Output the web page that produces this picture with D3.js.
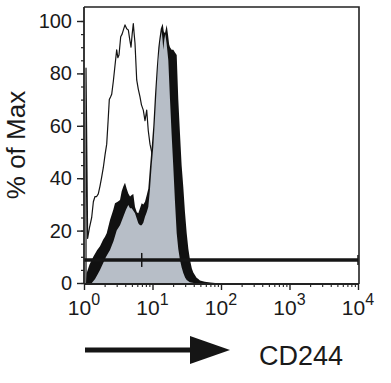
<!DOCTYPE html>
<html>
<head>
<meta charset="utf-8">
<script src="https://cdn.jsdelivr.net/npm/d3@7"></script>
<style>
  html, body { margin: 0; padding: 0; background: #fff; }
  svg { display: block; }
  text { font-family: "Liberation Sans", Arial, sans-serif; fill: #1a1a1a; }
</style>
</head>
<body>
<svg id="chart" width="391" height="383"></svg>
<script>
// ---- data (CD244 intensity, % of Max) ----
const thinX = [1.07, 1.07, 1.13, 1.2, 1.295, 1.37, 1.447, 1.53, 1.617, 1.712, 1.8, 1.913, 2.03, 2.145, 2.25, 2.341, 2.44, 2.537, 2.68, 2.835, 3.0, 3.12, 3.243, 3.434, 3.6, 3.8, 3.968, 4.2, 4.434, 4.65, 4.855, 5.05, 5.246, 5.4, 5.553, 5.881, 6.2, 6.569, 6.9, 7.34, 7.772, 8.0, 8.229, 8.685, 9.194, 9.735, 10.5, 11.5, 12.5, 13.6, 15, 17, 20, 24];
const thinY = [0, 82, 17, 21, 25, 31, 33, 33, 34, 37, 40, 44, 49, 53, 62, 70, 71, 72, 77, 83, 89, 86, 87, 94, 95, 97, 98.5, 97, 96.6, 93, 90, 95, 99, 95, 91.5, 77.5, 74, 71, 68, 66, 62, 64, 66, 58, 53, 50, 44, 36, 26, 16, 8, 3, 1, 0];

const blackX = [1.07, 1.095, 1.2, 1.367, 1.55, 1.712, 1.9, 2.026, 2.145, 2.397, 2.677, 2.835, 3.1, 3.354, 3.55, 3.747, 3.968, 4.2, 4.434, 4.7, 4.971, 5.246, 5.553, 5.9, 6.204, 6.569, 6.956, 7.34, 7.772, 8.229, 8.685, 9.194, 9.735, 10.27, 10.88, 11.52, 12.16, 12.57, 13.2, 14.09, 14.6, 15.22, 15.7, 16.12, 16.8, 17.5, 18.01, 19, 20.12, 21.3, 22.56, 23.8, 25.2, 26.6, 28.16, 29.8, 31.58, 33.4, 35.28, 37.5, 39.41, 41.73, 44, 46.64, 49.36, 58, 70, 82];
const blackY = [0, 3.8, 7, 10, 12.5, 14, 16.5, 17.7, 19, 24, 28, 30.4, 31, 31.7, 35, 36.8, 38.3, 36, 34.2, 33, 33.6, 34, 29, 27, 26.6, 28.5, 30.4, 30, 31, 33.5, 36, 44.4, 52, 60, 72, 82, 90, 93, 97, 99, 96, 95.3, 97, 98.5, 95, 91, 90, 89, 89, 88, 87, 70, 57, 45, 36.6, 27, 19, 13, 8.8, 5.5, 4, 3, 2, 1.5, 1, 0.5, 0.2, 0];

const grayX = [1.3, 1.45, 1.6, 1.712, 1.9, 2.1, 2.397, 2.7, 3.0, 3.354, 3.747, 4.1, 4.434, 4.7, 4.971, 5.553, 6.204, 6.569, 6.956, 7.34, 7.772, 8.229, 8.685, 9.194, 9.735, 10.27, 10.88, 11.52, 12.16, 12.9, 13.63, 14.0, 14.38, 14.9, 15.4, 16.12, 17.01, 18.01, 19, 20.12, 21.3, 22.56, 23.8, 25.2, 26.6, 28.16, 30, 31.58, 35, 40];
const grayY = [0, 1.5, 3.5, 5, 7.5, 10, 12.6, 16, 20, 22, 25.3, 28, 29.8, 28.5, 28.5, 26.6, 22.8, 22, 22, 23, 25.3, 27, 29, 36, 45, 52, 63, 75, 85, 92, 96, 93, 89, 93, 95, 91, 85, 70, 57, 44.4, 31, 19, 13, 8.8, 6, 3.8, 2, 1.1, 0.3, 0];

// gate marker: level (% of Max), range and middle mark (CD244)
const gateLevel = 8.8;
const gateRange = [1, 10000];
const gateMid = 6.96;

const yTicks = [0, 20, 40, 60, 80, 100];
const xTicks = [1, 10, 100, 1000, 10000];
const xTickExp = ["0", "1", "2", "3", "4"];
const yTitle = "% of Max";
const xTitle = "CD244";

// ---- layout ----
const svg = d3.select("#chart");
const x = d3.scaleLog().domain([1, 10000]).range([84, 358]);
const y = d3.scaleLinear().domain([0, 100]).range([283, 21]);
const frameTop = 7, frameRight = 359, axisY = 284;

const zip = (xs, ys) => xs.map((v, i) => [v, ys[i]]);
const thin = zip(thinX, thinY), black = zip(blackX, blackY), gray = zip(grayX, grayY);

const area = d3.area().x(d => x(d[0])).y0(y(0)).y1(d => y(d[1]));
const line = d3.line().x(d => x(d[0])).y(d => y(d[1]));

// open histogram (thin outline)
svg.append("path").datum(thin).attr("d", line)
  .attr("fill", "none").attr("stroke", "#151515").attr("stroke-width", 1.2)
  .attr("stroke-linejoin", "round");

// black filled histogram
svg.append("path").datum(black).attr("d", area).attr("fill", "#111");

// gray filled histogram
svg.append("path").datum(gray).attr("d", area).attr("fill", "#b7bec7");

// gate marker
const g = svg.append("g").attr("stroke", "#151515");
g.append("line").attr("x1", x(gateRange[0])).attr("x2", x(gateRange[1]))
  .attr("y1", y(gateLevel)).attr("y2", y(gateLevel)).attr("stroke-width", 3.5);
g.append("line").attr("x1", x(gateMid)).attr("x2", x(gateMid))
  .attr("y1", y(gateLevel) - 7).attr("y2", y(gateLevel) + 7).attr("stroke-width", 1.5);
g.append("line").attr("x1", x(gateRange[1])).attr("x2", x(gateRange[1]))
  .attr("y1", y(gateLevel) - 5).attr("y2", y(gateLevel) + 5).attr("stroke-width", 1.5);

// frame (top, right)
svg.append("path")
  .attr("d", `M${x(1)},${frameTop}H${frameRight}V${axisY}`)
  .attr("fill", "none").attr("stroke", "#222").attr("stroke-width", 1.6);

// y axis
const yMinor = d3.range(0, 101, 5);
const yMinorAxis = svg.append("g").attr("transform", `translate(${x(1)},0)`)
  .call(d3.axisLeft(y).tickValues(yMinor).tickSize(3).tickFormat(""));
yMinorAxis.select(".domain").remove();
yMinorAxis.selectAll("line").attr("stroke", "#222").attr("stroke-width", 1.2);

const yAxis = svg.append("g").attr("transform", `translate(${x(1)},0)`)
  .call(d3.axisLeft(y).tickValues(yTicks).tickSize(7).tickPadding(5).tickSizeOuter(0));
yAxis.select(".domain").attr("d", `M0,${frameTop}V${axisY}`).attr("stroke", "#222").attr("stroke-width", 1.8);
yAxis.selectAll("line").attr("stroke", "#222").attr("stroke-width", 1.4);
yAxis.selectAll("text").style("font-size", "20px").attr("fill", "#1a1a1a");

// x axis
const xMinor = [];
for (let d = 1; d < 10000; d *= 10) for (let k = 2; k <= 9; k++) xMinor.push(d * k);
const xMinorAxis = svg.append("g").attr("transform", `translate(0,${axisY})`)
  .call(d3.axisBottom(x).tickValues(xMinor).tickSize(3).tickFormat(""));
xMinorAxis.select(".domain").remove();
xMinorAxis.selectAll("line").attr("stroke", "#222").attr("stroke-width", 1.1);

const xAxis = svg.append("g").attr("transform", `translate(0,${axisY})`)
  .call(d3.axisBottom(x).tickValues(xTicks).tickSize(6).tickFormat("").tickSizeOuter(0));
xAxis.select(".domain").attr("d", `M${x(1)},0H${frameRight}`).attr("stroke", "#222").attr("stroke-width", 2);
xAxis.selectAll("line").attr("stroke", "#222").attr("stroke-width", 1.4);

const xl = svg.append("g").selectAll("text").data(xTicks).join("text")
  .attr("x", d => x(d)).attr("y", 315).attr("text-anchor", "middle")
  .style("font-size", "21px");
xl.append("tspan").text("10");
xl.append("tspan").attr("dy", -10).style("font-size", "16px").text((d, i) => xTickExp[i]);

// y title
svg.append("text").attr("transform", "translate(25,145) rotate(-90)")
  .attr("text-anchor", "middle").style("font-size", "26px").text(yTitle);

// x title with arrow
svg.append("line").attr("x1", 85).attr("x2", 194).attr("y1", 350).attr("y2", 350)
  .attr("stroke", "#151515").attr("stroke-width", 5);
svg.append("path").attr("d", "M190,336L230,350L190,364Z").attr("fill", "#151515");
svg.append("text").attr("x", 259).attr("y", 365).style("font-size", "27px").text(xTitle);
</script>
</body>
</html>
